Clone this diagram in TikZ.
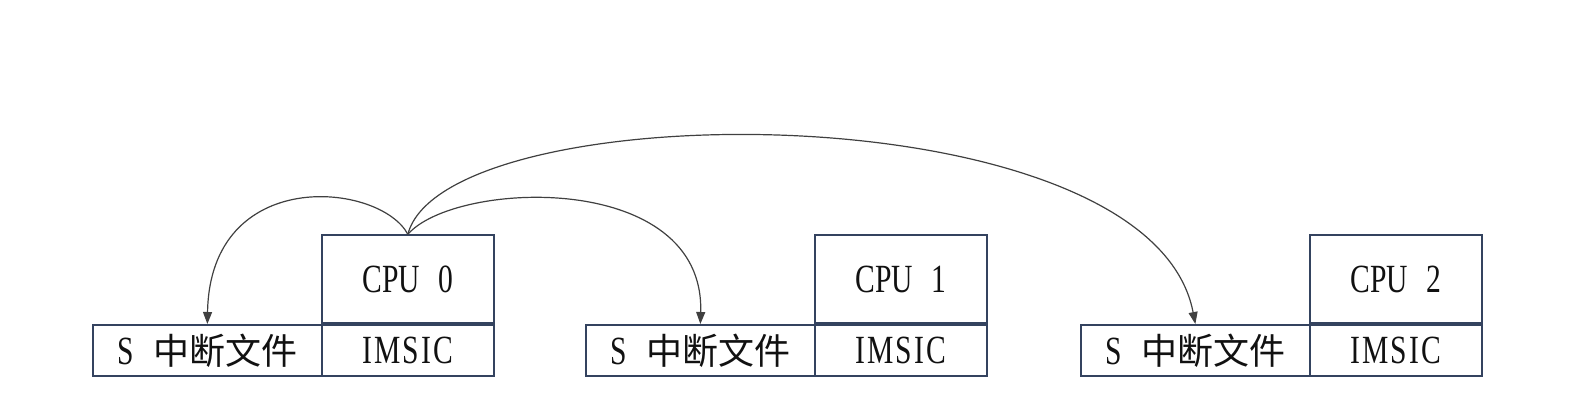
\documentclass[tikz,border=0pt]{standalone}
\usepackage{fontspec}
\setmainfont{Liberation Serif}[FakeStretch=0.74]
\newfontfamily\cjk{Noto Sans CJK SC}
\usetikzlibrary{arrows.meta}
\definecolor{boxline}{HTML}{34435F}
\definecolor{arrowline}{HTML}{404040}
\definecolor{txt}{HTML}{111111}
\tikzset{
  box/.style={draw=boxline, line width=1.7bp, inner sep=0pt, text=txt,
    font=\fontsize{40bp}{42bp}\selectfont},
  sbox/.style={box, minimum width=229bp, minimum height=51bp, anchor=north west},
  mbox/.style={box, minimum width=172bp, minimum height=51bp, anchor=north west},
  cbox/.style={box, minimum width=172bp, minimum height=88bp, anchor=south west},
  conn/.style={draw=arrowline, line width=1.2bp, -{Triangle[length=12bp,width=9bp]}}
}
\newcommand{\sfile}{S\hspace{20bp}{\cjk\fontsize{36bp}{38bp}\selectfont 中断文件}}
\newcommand{\imsic}{{\addfontfeature{LetterSpace=5}IMSIC}}
\begin{document}
\begin{tikzpicture}[x=1bp,y=-1bp]
\useasboundingbox (0,0) rectangle (1581,417);
% group 0
\node[sbox] (s0) at (92,324) {\sfile};
\node[mbox] (m0) at (321,324) {\imsic};
\node[cbox] (c0) at (321,324) {CPU\hspace{18bp}0};
% group 1
\node[sbox] (s1) at (585,324) {\sfile};
\node[mbox] (m1) at (814,324) {\imsic};
\node[cbox] (c1) at (814,324) {CPU\hspace{18bp}1};
% group 2
\node[sbox] (s2) at (1080,324) {\sfile};
\node[mbox] (m2) at (1309,324) {\imsic};
\node[cbox] (c2) at (1309,324) {CPU\hspace{18bp}2};
% connectors
\draw[conn] (c0.north) .. controls (380,182) and (210,165) .. (s0.north);
\draw[conn] (c0.north) .. controls (455,180) and (705,170) .. (s1.north);
\draw[conn] (c0.north) .. controls (445,92) and (1150,88) .. (s2.north);
\end{tikzpicture}
\end{document}
